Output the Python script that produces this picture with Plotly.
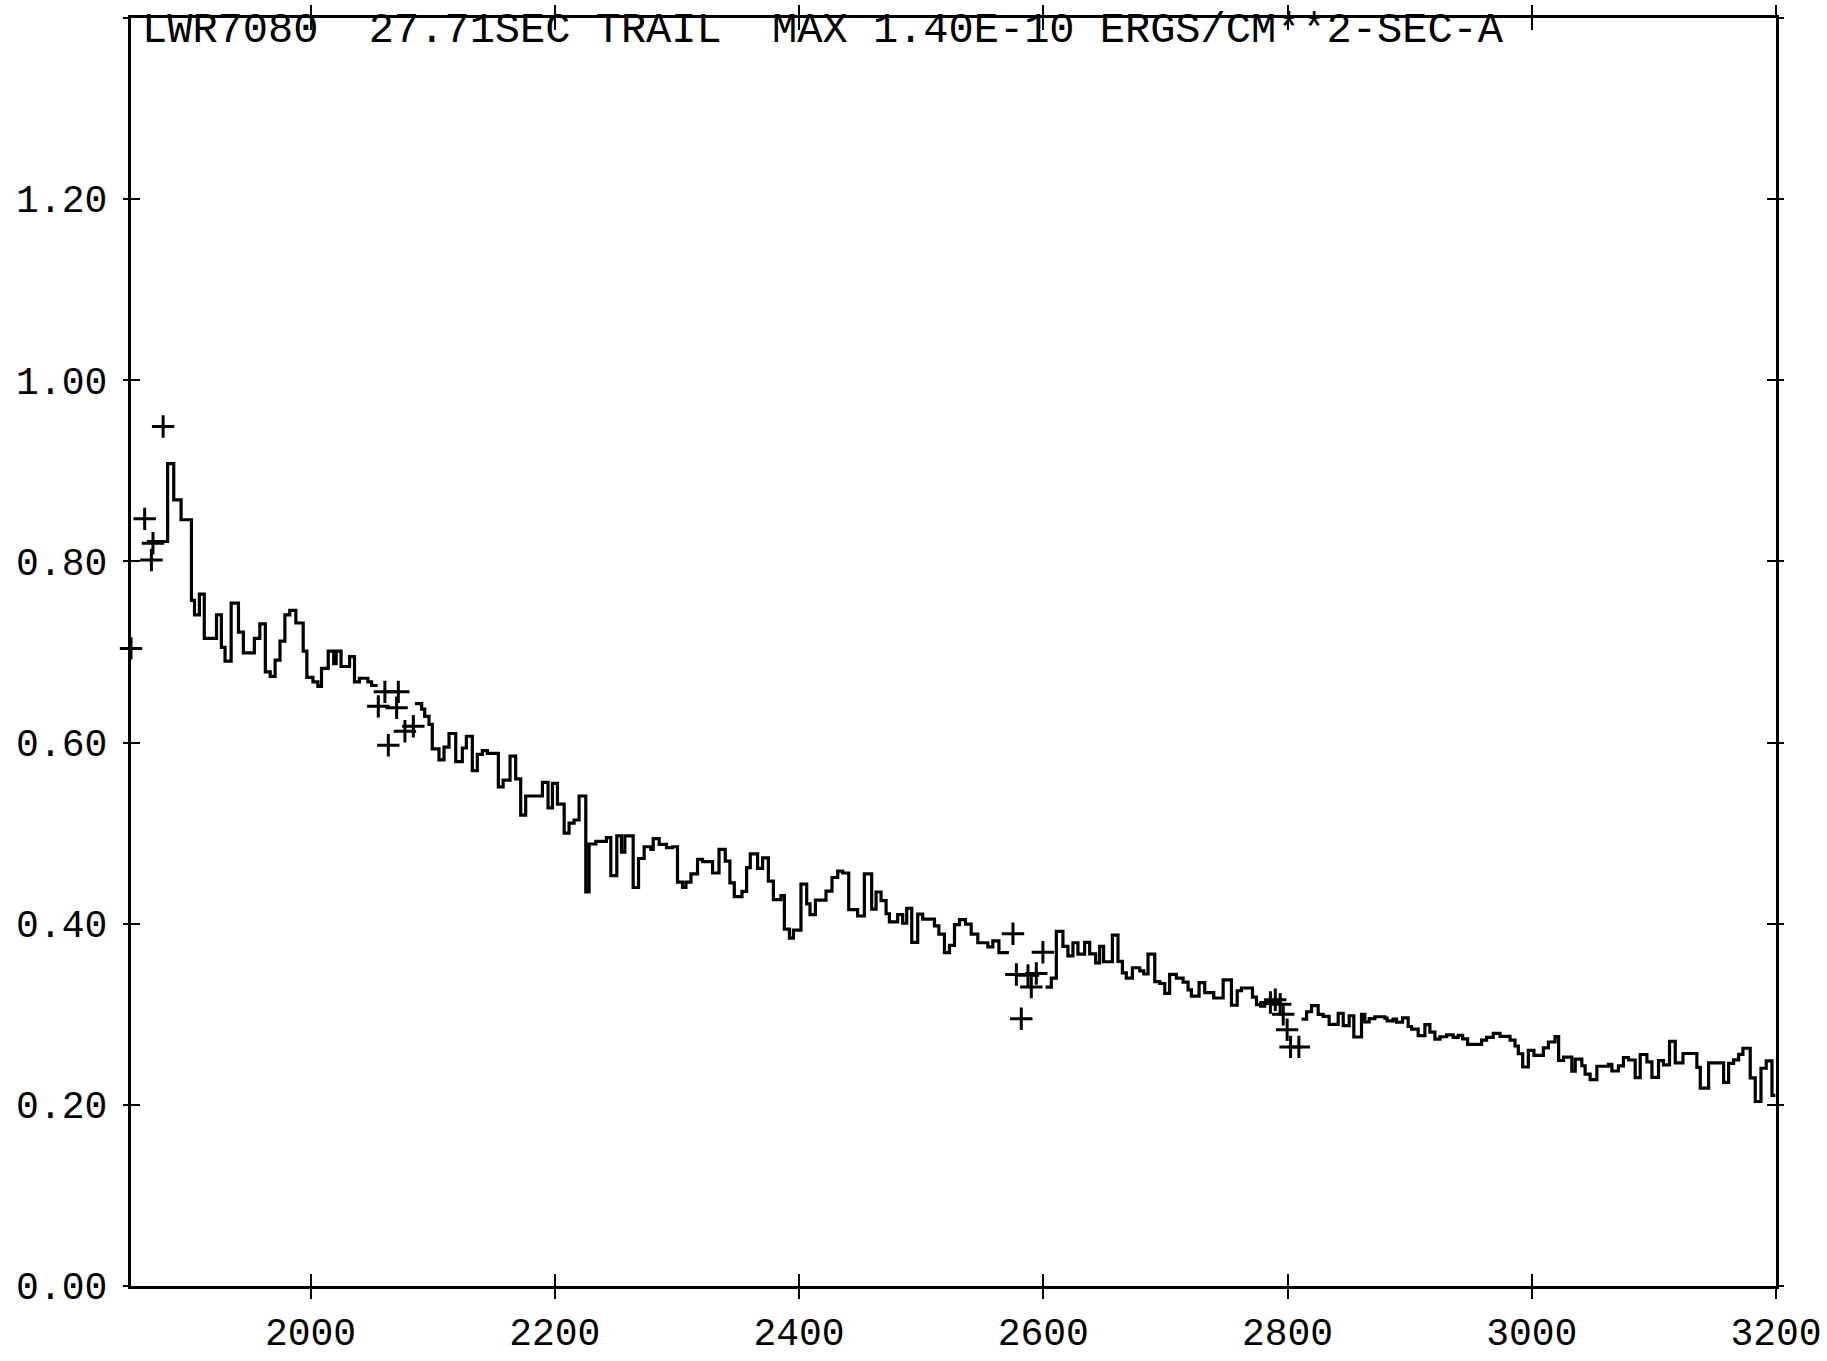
import plotly.graph_objects as go

# ---- IUE LWR7080 trailed spectrum: binned flux (step histogram) ----
# Each segment: bin edges (one more than values) and flux per bin, in units of 1.40E-10 scale.
seg1_wave = [1866, 1883, 1888, 1894, 1902.5, 1905, 1909, 1913, 1923, 1927, 1930, 1935, 1941,
             1945, 1954, 1958.5, 1963, 1967, 1971, 1975, 1979, 1983, 1988, 1994, 1997, 2002,
             2006, 2009, 2014.5, 2019, 2021, 2025, 2032, 2036, 2040, 2047, 2050, 2055]
seg1_flux = [0.822, 0.908, 0.868, 0.846, 0.757, 0.741, 0.764, 0.715, 0.741, 0.705, 0.690, 0.754,
             0.722, 0.699, 0.715, 0.731, 0.678, 0.673, 0.691, 0.712, 0.741, 0.746, 0.732, 0.701,
             0.672, 0.667, 0.662, 0.682, 0.701, 0.687, 0.701, 0.684, 0.695, 0.667, 0.671, 0.667,
             0.663]

seg2_wave = [2085.5, 2091, 2093.5, 2097, 2099.7, 2105.2, 2109.3, 2113.4, 2118.9, 2124.3, 2127.6,
             2132.5, 2136.6, 2140.7, 2144.8, 2153.8, 2157.7, 2163.4, 2168, 2172.1, 2176.2, 2189.9,
             2194.5, 2198.1, 2202.2, 2207.7, 2211.7, 2215.8, 2219.9, 2225.4, 2228.1, 2233.6, 2242.3,
             2245.9, 2250.8, 2254.6, 2257.4, 2264.2, 2268.6, 2273.2, 2278.7, 2280.6, 2285.5, 2291.5,
             2296.4, 2300.5, 2304.6, 2307.4, 2311.5, 2316.9, 2321, 2329.2, 2334.5, 2339.6, 2343.4,
             2347, 2353.3, 2357.1, 2360.1, 2366.1, 2370.2, 2374.9, 2379, 2385.2, 2388, 2392.1,
             2395.4, 2401.6, 2406.3, 2409, 2413.4, 2422.1, 2427, 2431.7, 2435.8, 2440.7, 2448,
             2453.5, 2459.5, 2463.1, 2467.2, 2471.3, 2474, 2480.8, 2484.9, 2488.2, 2492.3, 2497.2,
             2501.3, 2510.9, 2514.5, 2519.1, 2523.2, 2527.3, 2531.4, 2536.3, 2541, 2546.4, 2554.6,
             2558.7, 2563.7, 2571.9]
seg2_flux = [0.643, 0.637, 0.629, 0.620, 0.593, 0.581, 0.595, 0.610, 0.579, 0.594, 0.607, 0.569,
             0.587, 0.591, 0.588, 0.551, 0.5585, 0.585, 0.560, 0.520, 0.541, 0.556, 0.528, 0.555,
             0.532, 0.500, 0.511, 0.5145, 0.541, 0.435, 0.488, 0.491, 0.495, 0.453, 0.497, 0.479,
             0.497, 0.440, 0.472, 0.485, 0.482, 0.494, 0.4875, 0.484, 0.485, 0.446, 0.440, 0.446,
             0.455, 0.471, 0.4685, 0.456, 0.482, 0.469, 0.445, 0.430, 0.4356, 0.462, 0.477, 0.461,
             0.4726, 0.447, 0.4266, 0.431, 0.394, 0.384, 0.393, 0.4437, 0.422, 0.410, 0.426, 0.436,
             0.451, 0.458, 0.456, 0.4155, 0.4085, 0.455, 0.416, 0.435, 0.4255, 0.411, 0.402, 0.410,
             0.4005, 0.417, 0.3795, 0.4106, 0.405, 0.3976, 0.3886, 0.368, 0.376, 0.399, 0.4045,
             0.3995, 0.3886, 0.379, 0.3745, 0.381, 0.368]

seg3_wave = [2601.9, 2606.6, 2610.7, 2616.1, 2620.2, 2624.3, 2628.4, 2633.9, 2638, 2642.9, 2646.2,
             2649.4, 2656.6, 2661.2, 2664.8, 2668, 2673, 2679, 2682.3, 2685.8, 2691.3, 2695.4,
             2699.5, 2703.5, 2709, 2714.5, 2718.6, 2721.3, 2727.6, 2732.2, 2739.6, 2747.3, 2754.1,
             2758.8, 2762.3, 2771.3, 2774.6, 2777.9, 2781.4, 2788]
seg3_flux = [0.330, 0.340, 0.3916, 0.375, 0.3644, 0.379, 0.3665, 0.3794, 0.3667, 0.3568, 0.375,
             0.358, 0.3875, 0.3584, 0.3457, 0.340, 0.3514, 0.348, 0.3445, 0.3665, 0.336, 0.334,
             0.323, 0.344, 0.340, 0.3356, 0.327, 0.320, 0.335, 0.324, 0.318, 0.338, 0.310, 0.326,
             0.329, 0.319, 0.3107, 0.309, 0.312]

seg4_wave = [2811.5, 2815.6, 2819.7, 2825.1, 2829.2, 2834.1, 2841.5, 2845.6, 2850.5, 2854.3, 2860.6,
             2863.3, 2866.9, 2871.5, 2879.7, 2881.6, 2886.5, 2889.3, 2894.2, 2898.8, 2901.6, 2907,
             2912.5, 2916.6, 2920.7, 2924.8, 2930.3, 2935.7, 2939.8, 2943.4, 2947.5, 2958.9, 2963,
             2968.5, 2974, 2982.2, 2986.3, 2989, 2992.6, 2997.2, 3001.8, 3009.5, 3013.6, 3019.1,
             3022, 3026, 3032.8, 3035.6, 3041, 3043.7, 3047.8, 3053.3, 3062.8, 3065.6, 3071, 3075.1,
             3079.2, 3084.7, 3088.8, 3094.3, 3098.4, 3103.8, 3107.9, 3112.8, 3117.5, 3123.8, 3135.2,
             3138, 3144.8, 3157.1, 3161.2, 3165.3, 3169.4, 3172.9, 3178.9, 3183, 3187.7, 3192,
             3196.7, 3199.5]
seg4_flux = [0.2947, 0.3028, 0.3096, 0.300, 0.2978, 0.2889, 0.301, 0.2874, 0.2984, 0.2749, 0.2998,
             0.2915, 0.2953, 0.2973, 0.2957, 0.2928, 0.2948, 0.2912, 0.2961, 0.2865, 0.2836, 0.2764,
             0.2886, 0.2804, 0.2725, 0.2752, 0.2772, 0.2744, 0.2767, 0.2728, 0.2668, 0.2714, 0.2745,
             0.279, 0.2756, 0.2715, 0.265, 0.2564, 0.2418, 0.2602, 0.2546, 0.263, 0.2694, 0.2754,
             0.249, 0.2527, 0.2372, 0.2504, 0.2432, 0.234, 0.2278, 0.2426, 0.2447, 0.2374, 0.243,
             0.2523, 0.2495, 0.230, 0.2556, 0.2475, 0.2304, 0.2488, 0.2441, 0.270, 0.2463, 0.2567,
             0.2414, 0.2185, 0.2464, 0.2249, 0.2458, 0.2496, 0.2558, 0.2625, 0.2299, 0.2037, 0.2404,
             0.2486, 0.2104]

# Flagged (saturated / reseau-affected) points plotted as crosses
flag_wave = [1853, 1864.2, 1869.7, 1871.0, 1879.3,
             2055.5, 2060.9, 2063.7, 2070.5, 2071.9, 2077.3, 2084.2,
             2575.2, 2578.0, 2582.0, 2587.5, 2590.2, 2594.3, 2599.7,
             2786, 2790, 2794, 2796.5, 2799.7, 2802.5, 2809.3]
flag_flux = [0.704, 0.847, 0.8015, 0.820, 0.949,
             0.640, 0.656, 0.597, 0.6385, 0.656, 0.6125, 0.618,
             0.389, 0.344, 0.295, 0.343, 0.330, 0.345, 0.3685,
             0.313, 0.316, 0.311, 0.300, 0.283, 0.264, 0.264]

x_ticks = [2000, 2200, 2400, 2600, 2800, 3000, 3200]
y_ticks = [0.00, 0.20, 0.40, 0.60, 0.80, 1.00, 1.20, 1.40]
title_text = "LWR7080\u00a0\u00a027.71SEC TRAIL\u00a0\u00a0MAX 1.40E-10 ERGS/CM**2-SEC-A"

X_RANGE = [1853, 3200]
Y_RANGE = [0.0, 1.40]

# Build one stepped polyline with breaks between segments
step_x, step_y = [], []
for wave, flux in [(seg1_wave, seg1_flux), (seg2_wave, seg2_flux),
                   (seg3_wave, seg3_flux), (seg4_wave, seg4_flux)]:
    step_x += list(wave) + [None]
    step_y += list(flux) + [flux[-1]] + [None]

FONT = "Liberation Mono"
INK = "black"

fig = go.Figure()
fig.add_trace(go.Scatter(
    x=step_x, y=step_y, mode="lines",
    line=dict(color=INK, width=3.2, shape="hv"),
    connectgaps=False, showlegend=False, hoverinfo="skip",
))
fig.add_trace(go.Scatter(
    x=flag_wave, y=flag_flux, mode="markers",
    marker=dict(symbol="cross-thin", size=16, line=dict(color=INK, width=3)),
    cliponaxis=False, showlegend=False, hoverinfo="skip",
))
# invisible trace on the secondary axes so they are drawn
fig.add_trace(go.Scatter(x=[X_RANGE[0]], y=[Y_RANGE[0]], xaxis="x2", yaxis="y2",
                         mode="markers", marker=dict(opacity=0), showlegend=False,
                         hoverinfo="skip"))

tickfont = dict(family=FONT, size=38, color=INK)

fig.update_layout(
    width=1827, height=1361,
    margin=dict(l=131, r=47, t=5, b=72),
    paper_bgcolor="white", plot_bgcolor="white",
    xaxis=dict(
        range=X_RANGE, tickvals=x_ticks, ticktext=[str(v) for v in x_ticks],
        showgrid=False, zeroline=False,
        showline=True, linecolor=INK, linewidth=3.2, mirror="ticks",
        ticks="outside", ticklen=10, tickwidth=2, tickcolor=INK,
        tickfont=tickfont, ticklabelstandoff=0,
    ),
    yaxis=dict(
        range=Y_RANGE, tickvals=y_ticks, ticktext=[f"{v:.2f}" for v in y_ticks],
        showgrid=False, zeroline=False,
        showline=True, linecolor=INK, linewidth=3.2, mirror="ticks",
        ticks="outside", ticklen=5, tickwidth=2, tickcolor=INK,
        tickfont=tickfont, ticklabelstandoff=8,
    ),
    xaxis2=dict(
        range=X_RANGE, overlaying="x", anchor="y2", side="bottom",
        tickvals=x_ticks, showticklabels=False, showgrid=False, zeroline=False,
        showline=False, mirror="ticks",
        ticks="inside", ticklen=12, tickwidth=2, tickcolor=INK,
    ),
    yaxis2=dict(
        range=Y_RANGE, overlaying="y", anchor="x2", side="left",
        tickvals=y_ticks, showticklabels=False, showgrid=False, zeroline=False,
        showline=False, mirror="ticks",
        ticks="inside", ticklen=9, tickwidth=2, tickcolor=INK,
    ),
    annotations=[dict(
        text=title_text, xref="paper", yref="paper",
        x=0.0055, y=0.9899, xanchor="left", yanchor="middle",
        showarrow=False, font=dict(family=FONT, size=42, color=INK),
    )],
)

fig.write_html("out.html")
